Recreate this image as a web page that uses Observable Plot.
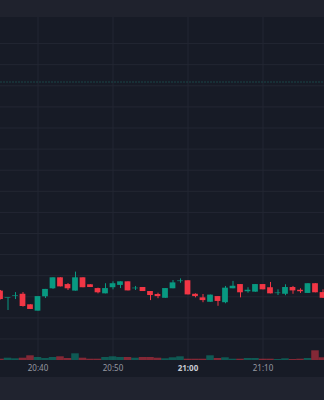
<!DOCTYPE html>
<html><head><meta charset="utf-8">
<script src="https://cdn.jsdelivr.net/npm/d3@7"></script>
<script src="https://cdn.jsdelivr.net/npm/@observablehq/plot@0.6"></script>
<style>
html,body{margin:0;padding:0;background:#171b26;width:324px;height:400px;overflow:hidden;font-family:Roboto,"Noto Sans",sans-serif}
#top{height:17px;background:#1f222d}
#chart{position:relative;width:324px;height:360px;background:#171b26}
#chart svg{position:absolute;left:0;display:block}
#bottom{height:23px;background:#20232f}
</style></head><body>
<div id="top"></div><div id="chart"></div><div id="bottom"></div>
<script>
// one-minute candles
const times = ["20:35","20:36","20:37","20:38","20:39","20:40","20:41","20:42","20:43","20:44","20:45","20:46","20:47","20:48","20:49","20:50","20:51","20:52","20:53","20:54","20:55","20:56","20:57","20:58","20:59","21:00","21:01","21:02","21:03","21:04","21:05","21:06","21:07","21:08","21:09","21:10","21:11","21:12","21:13","21:14","21:15","21:16","21:17","21:18"];
const open  = [102.27,101.92,102.03,102.12,101.62,101.32,102.00,102.38,102.90,102.58,102.27,102.90,102.57,102.39,102.14,102.43,102.54,102.71,102.38,102.44,102.25,102.11,101.93,102.38,102.72,102.76,102.12,101.95,101.74,102.01,101.72,102.38,102.58,102.24,102.22,102.58,102.43,102.15,102.12,102.44,102.31,102.16,102.62,102.20];
const high  = [102.30,101.95,102.20,102.20,101.62,102.01,102.35,102.90,102.90,102.63,103.17,102.90,102.57,102.41,102.62,102.71,102.71,102.71,102.49,102.44,102.25,102.17,102.39,102.77,102.85,102.76,102.14,102.11,102.08,102.01,102.49,102.73,102.58,102.43,102.58,102.58,102.68,102.33,102.57,102.49,102.38,102.62,102.62,102.33];
const low   = [101.85,101.35,101.87,101.51,101.40,101.32,101.92,102.35,102.47,102.30,102.27,102.43,102.44,102.14,102.14,102.33,102.39,102.28,102.30,102.25,101.82,101.91,101.93,102.38,102.64,102.09,101.95,101.72,101.74,101.55,101.67,102.38,101.95,102.17,102.22,102.33,102.14,102.06,102.05,102.12,102.16,102.16,102.19,101.93];
const close = [101.87,101.95,102.06,101.54,101.40,102.01,102.35,102.90,102.47,102.38,102.90,102.43,102.44,102.19,102.39,102.62,102.71,102.28,102.41,102.25,102.06,102.01,102.39,102.66,102.75,102.09,102.01,101.82,102.08,101.78,102.41,102.50,102.19,102.31,102.58,102.33,102.14,102.18,102.44,102.28,102.24,102.62,102.19,101.93];
const volume = [13,23,17,23,47,30,20,30,37,20,67,23,13,13,30,37,30,30,23,30,30,23,17,27,37,13,13,13,47,20,27,13,13,20,20,13,13,10,17,10,13,20,97,27];
const gridPrices = [100,101,102,103,104,105,106,107,108,109,110,111,112,113,114];
const markerPrice = 112.18;
const tickLabels = ["20:40","20:50","21:00","21:10"];
const boldLabels = ["21:00"];

const UP = "#089981", DOWN = "#f23645";
const toDate = s => { const [h, m] = s.split(":").map(Number); return new Date(Date.UTC(2024, 0, 1, h, m)); };
const data = times.map((t, i) => ({
  t: toDate(t), open: open[i], high: high[i], low: low[i], close: close[i], volume: volume[i],
  up: close[i] >= open[i]
}));
const x0 = toDate("20:35");
const xDomain = [x0, new Date(+x0 + 43.2 * 60000)];
const tickDates = tickLabels.filter(s => !boldLabels.includes(s)).map(toDate);
const boldDates = boldLabels.map(toDate);
const fmt = d3.utcFormat("%H:%M");
const half = 23000;

const price = Plot.plot({
  width: 324, height: 360,
  marginTop: 0, marginBottom: 17, marginLeft: 0, marginRight: 0,
  style: {background: "transparent", overflow: "visible"},
  x: {type: "utc", domain: xDomain, axis: null},
  y: {domain: [98.981, 115.237], axis: null},
  marks: [
    Plot.ruleY(gridPrices, {stroke: "#232733", strokeWidth: 1}),
    Plot.ruleX(tickLabels.map(toDate), {stroke: "#232733", strokeWidth: 1}),
    Plot.ruleY([markerPrice], {stroke: "#1b4446", strokeWidth: 1, strokeDasharray: "2,1"}),
    Plot.ruleX(data, {x: "t", y1: "low", y2: "high", stroke: d => d.up ? UP : DOWN, strokeWidth: 1}),
    Plot.rect(data, {
      x1: d => new Date(+d.t - half), x2: d => new Date(+d.t + half),
      y1: "open", y2: "close", fill: d => d.up ? UP : DOWN
    }),
    Plot.axisX(tickDates, {tickSize: 0, tickPadding: 5, tickFormat: fmt, fontSize: 8, fill: "#9598a1", label: null}),
    Plot.axisX(boldDates, {tickSize: 0, tickPadding: 5, tickFormat: fmt, fontSize: 8, fontWeight: "bold", fill: "#c8cad2", label: null})
  ]
});
price.style.top = "0px";

const vol = Plot.plot({
  width: 324, height: 77,
  marginTop: 0, marginBottom: 17, marginLeft: 0, marginRight: 0,
  style: {background: "transparent"},
  x: {type: "utc", domain: xDomain, axis: null},
  y: {domain: [0, 600], axis: null},
  marks: [
    Plot.rect(data, {
      x1: d => new Date(+d.t - 30000), x2: d => new Date(+d.t + 30000),
      y1: 0, y2: "volume", fill: d => d.up ? UP : DOWN, fillOpacity: 0.5
    })
  ]
});
vol.style.top = "283px";

const chart = document.getElementById("chart");
chart.appendChild(price);
chart.appendChild(vol);
</script>
</body></html>
